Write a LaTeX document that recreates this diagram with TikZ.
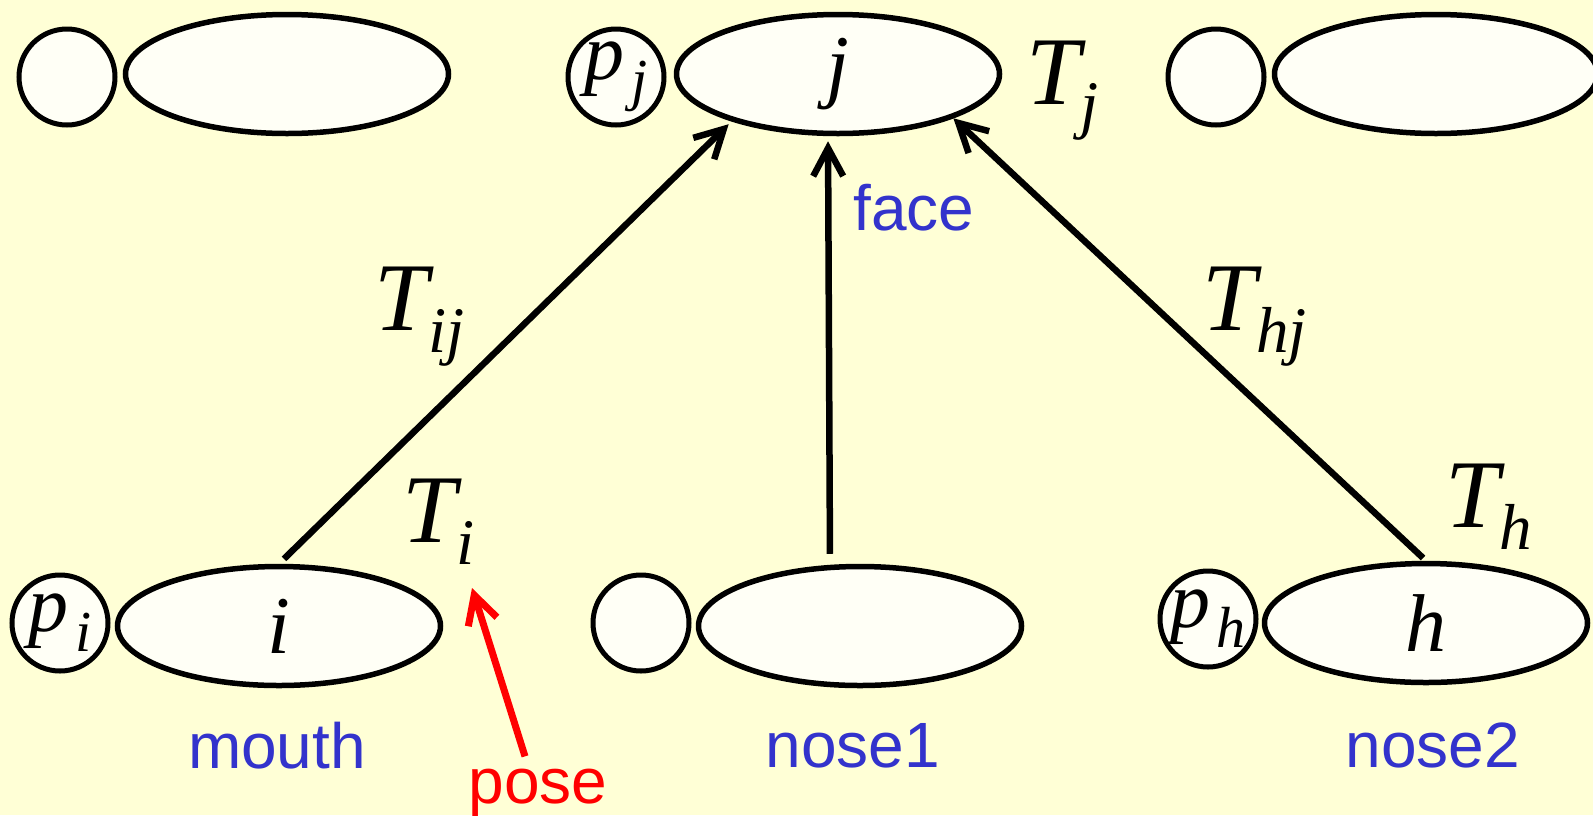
\documentclass[tikz,border=0pt]{standalone}
\usepackage{fontspec}
\setmainfont{Liberation Serif}
\newfontfamily\lsans{Liberation Sans}
\usetikzlibrary{shapes.geometric,arrows.meta,calc}

\definecolor{bg}{RGB}{255,255,214}
\definecolor{nodefill}{RGB}{255,255,246}
\definecolor{lblue}{RGB}{51,51,204}

\newcommand\Tlab[1]{{\fontsize{97}{97}\selectfont\itshape T\raisebox{-0.23em}{\fontsize{65}{65}\selectfont #1}}}
\newcommand\Plab[1]{{\fontsize{80}{80}\selectfont\itshape p\kern0.08em\raisebox{-0.25em}{\fontsize{58}{58}\selectfont #1}}}

\begin{document}
\begin{tikzpicture}[x=1pt,y=-1pt,
  bigell/.style={ellipse, draw, line width=5.5pt, fill=nodefill, minimum width=323pt, minimum height=119pt, inner sep=0pt, font=\fontsize{82}{82}\selectfont\itshape},
  smallcirc/.style={circle, draw, line width=5pt, fill=nodefill, minimum size=96pt, inner sep=0pt},
  tlabel/.style={anchor=base west, inner sep=0pt},
  partlbl/.style={text=lblue, font=\lsans\fontsize{64}{64}\selectfont, anchor=base, inner sep=0pt},
  edgearrow/.style={line width=6.5pt, -{Straight Barb[length=28pt,width=30pt]}},
  posearrow/.style={draw=red, line width=7pt, -{Straight Barb[length=28pt,width=30pt]}},
]
\useasboundingbox (0,0) rectangle (1593,815);
\fill[bg] (0,0) rectangle (1593,815);

% top row
\node[smallcirc] (c1) at (67,77) {};
\node[bigell] (e1) at (287,74) {};
\node[smallcirc] (cj) at (616,77) {\Plab{j}};
\node[bigell] (ej) at (838,74) {j};
\node[smallcirc] (c3) at (1216,77) {};
\node[bigell] (e3) at (1436,74) {};

% bottom row
\node[smallcirc] (ci) at (60,623) {\Plab{i}};
\node[bigell] (ei) at (279,626) {i};
\node[smallcirc] (c5) at (641,623) {};
\node[bigell] (e5) at (860,626) {};
\node[smallcirc] (ch) at (1208,619) {\Plab{h}};
\node[bigell] (eh) at (1426,623) {h};

% transformation labels
\node[tlabel] (Tj) at (1026,104) {\Tlab{j}};
\node[tlabel] (Tij) at (374,330) {\Tlab{ij}};
\node[tlabel] (Thj) at (1202,330) {\Tlab{hj}};
\node[tlabel] (Ti) at (402,542) {\Tlab{i}};
\node[tlabel] (Th) at (1445,527) {\Tlab{h}};

% part labels
\node[partlbl, anchor=base west] (face) at (853,230) {face};
\node[partlbl] (mouth) at (277,768) {mouth};
\node[partlbl] (nose1) at (853,767) {nose1};
\node[partlbl] (nose2) at (1433,767) {nose2};
\node[partlbl, text=red] (pose) at (538,803) {pose};

% connectors
\draw[edgearrow, shorten <=7pt, shorten >=4pt] (ei.north) -- (ej.204);
\draw[edgearrow, shorten <=10pt, shorten >=5pt] ([xshift=-30pt]e5.north) -- ([xshift=-10pt]ej.south);
\draw[edgearrow, shorten <=4pt] (eh.north) -- (ej.339);
\coordinate (poseTip) at (472,588);
\draw[posearrow] ($(pose.north)+(-13,-12)$) -- (poseTip);
\end{tikzpicture}
\end{document}
